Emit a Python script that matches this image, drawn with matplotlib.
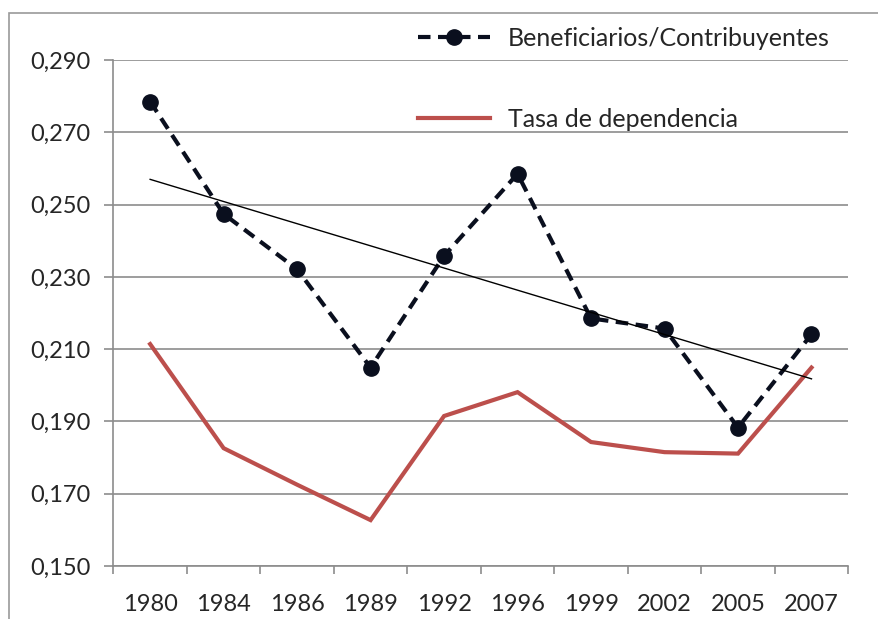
import numpy as np
import matplotlib.pyplot as plt
from matplotlib.patches import Rectangle

years = ['1980', '1984', '1986', '1989', '1992', '1996', '1999', '2002', '2005', '2007']
benef_contrib = [0.2785, 0.2474, 0.2321, 0.2049, 0.2358, 0.2585, 0.2185, 0.2157, 0.1883, 0.2141]
tasa_dependencia = [0.2114, 0.1826, 0.1725, 0.1627, 0.1915, 0.1981, 0.1843, 0.1815, 0.1811, 0.2049]
yticks = [0.150, 0.170, 0.190, 0.210, 0.230, 0.250, 0.270, 0.290]
ytick_labels = ['0,150', '0,170', '0,190', '0,210', '0,230', '0,250', '0,270', '0,290']

plt.rcParams['font.family'] = ['Lato', 'DejaVu Sans']
text_color = '#262626'
grid_color = '#8c8c8c'

fig = plt.figure(figsize=(8.79, 6.19), dpi=100)
ax = fig.add_axes([0.129, 0.0856, 0.836, 0.8175])

# marco del área del gráfico (cortado a la derecha y abajo)
fig.patches.append(Rectangle((0.0102, -0.1), 1.2, 1.079, transform=fig.transFigure,
                             fill=False, edgecolor='#9a9a9a', linewidth=1.2))

x = np.arange(len(years))

ax.plot(x, benef_contrib, color='#0a0f1e', linewidth=3, linestyle=(0, (3, 1.8)),
        marker='o', markersize=11, label='Beneficiarios/Contribuyentes')
ax.plot(x, tasa_dependencia, color='#bc4f4c', linewidth=3, solid_joinstyle='miter',
        label='Tasa de dependencia')

# línea de tendencia lineal
coef = np.polyfit(x, benef_contrib, 1)
ax.plot(x, np.polyval(coef, x), color='black', linewidth=1)

ax.set_xlim(-0.5, len(years) - 0.5)
ax.set_ylim(0.150, 0.290)

ax.set_yticks(yticks)
ax.set_yticklabels(ytick_labels)
ax.set_xticks(x)
ax.set_xticklabels(years)
ax.set_xticks(np.arange(-0.5, len(years)), minor=True)

ax.tick_params(axis='x', which='major', length=0, pad=20, labelsize=17, labelcolor=text_color)
ax.tick_params(axis='x', which='minor', length=6, width=1.2, color=grid_color, direction='out')
ax.tick_params(axis='y', length=6.5, width=1.2, color=grid_color, pad=10,
               labelsize=17, labelcolor=text_color)

ax.yaxis.grid(True, color=grid_color, linewidth=1.2)
ax.set_axisbelow(True)
for side in ['top', 'right']:
    ax.spines[side].set_visible(False)
for side in ['left', 'bottom']:
    ax.spines[side].set_color(grid_color)
    ax.spines[side].set_linewidth(1.2)

leg = ax.legend(loc='upper left', bbox_to_anchor=(0.4755, 0.956), bbox_transform=fig.transFigure,
                frameon=False, fontsize=18, handlelength=2.9, handletextpad=0.7,
                labelspacing=2.3, borderaxespad=0, borderpad=0)
for t in leg.get_texts():
    t.set_color(text_color)

fig.savefig('out.png', dpi=100)
